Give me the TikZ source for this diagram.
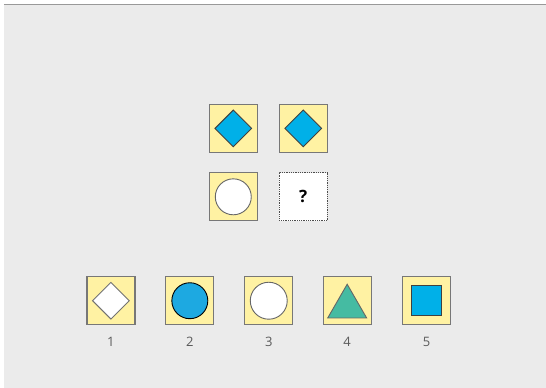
\documentclass[tikz,border=0pt]{standalone}
\usepackage{fontspec}
\setmainfont{Open Sans}
\usetikzlibrary{shapes.geometric}

\definecolor{panelgray}{HTML}{EBEBEB}
\definecolor{cellyellow}{HTML}{FFF2A3}
\definecolor{cellborder}{HTML}{777777}
\definecolor{shapecyan}{HTML}{00B0E8}
\definecolor{shapeblue}{HTML}{1DA9E1}
\definecolor{shapeteal}{HTML}{45BBA2}
\definecolor{labelgray}{HTML}{5A5A5A}

\begin{document}
\begin{tikzpicture}[x=1pt, y=-1pt,
    cell/.style={rectangle, draw=cellborder, fill=cellyellow, line width=1.3pt,
                 minimum size=48pt, inner sep=0pt},
    blank/.style={rectangle, draw=black!70, densely dotted, fill=white, line width=0.8pt,
                  minimum size=48pt, inner sep=0pt, font=\bfseries\fontsize{17}{17}\selectfont},
    dia/.style={diamond, draw=black!75, line width=0.9pt, inner sep=0pt,
                minimum width=37pt, minimum height=37pt},
    disc/.style={circle, draw=black!60, line width=0.9pt, inner sep=0pt, minimum size=36pt},
    tri/.style={regular polygon, regular polygon sides=3, draw=black!60, line width=0.9pt,
                inner sep=0pt, minimum size=45pt, fill=shapeteal},
    sq/.style={rectangle, draw=black!75, line width=0.9pt, inner sep=0pt,
               minimum size=30pt, fill=shapecyan},
    num/.style={font=\fontsize{13}{13}\selectfont, text=labelgray},
]
% Page and panel
\fill[white] (0,0) rectangle (546,388);
\fill[panelgray] (4,5) rectangle (546,388);
\draw[black!40, line width=1pt] (4,4.5) -- (546,4.5);

% Puzzle grid
\node[cell] (g11) at (233.5,128.5) {};
\node[cell] (g12) at (303.5,128.5) {};
\node[cell] (g21) at (233.5,197) {};
\node[blank] (g22) at (303.5,197) {?};
\node[dia, fill=shapecyan] (s11) at (g11) {};
\node[dia, fill=shapecyan] (s12) at (g12) {};
\node[disc, fill=white] (s21) at (g21) {};

% Answer options
\foreach \n/\x in {1/111, 2/190, 3/269, 4/347.5, 5/427} {
    \node[cell] (a\n) at (\x,301) {};
    \node[num] (l\n) at (\x,342) {\n};
}
\node[dia, fill=white, draw=black!55] (o1) at (a1) {};
\node[disc, fill=shapeblue, draw=black] (o2) at (a2) {};
\node[disc, fill=white, minimum size=37pt] (o3) at (a3) {};
\node[tri] (o4) at (347.5,307) {};
\node[sq] (o5) at (a5) {};
\end{tikzpicture}
\end{document}
